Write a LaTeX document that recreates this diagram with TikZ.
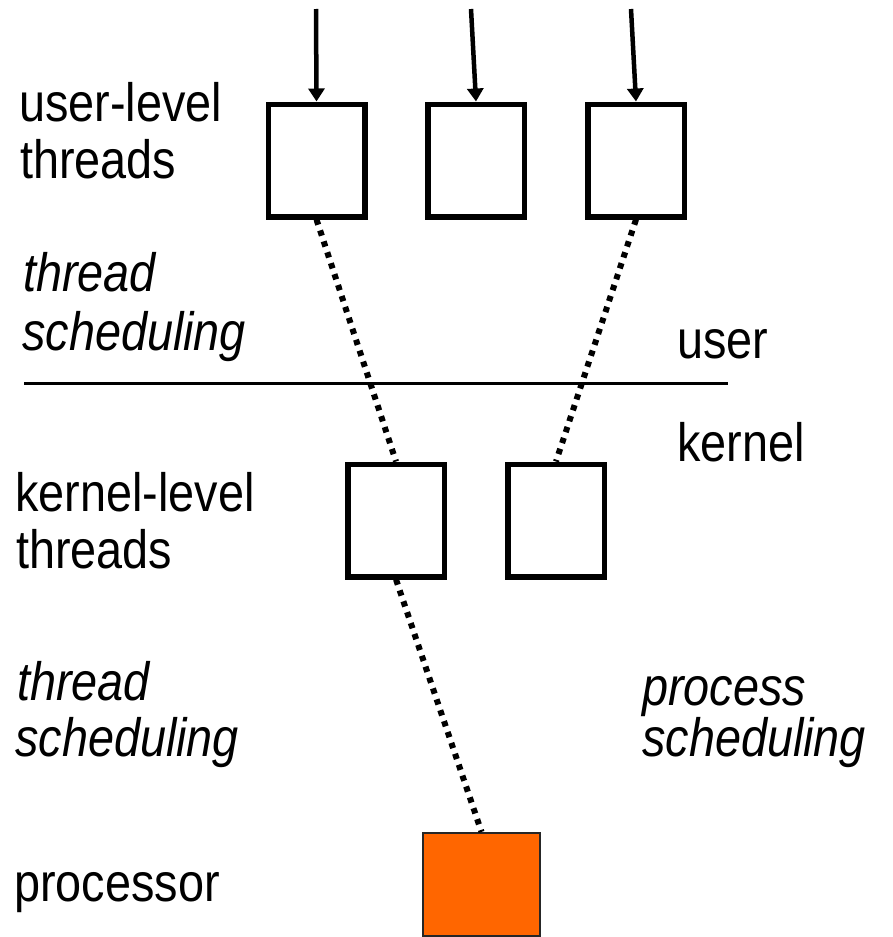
\documentclass[tikz,border=0pt]{standalone}
\usepackage{fontspec}
\setmainfont{Liberation Sans}[FakeStretch=0.867]
\usetikzlibrary{arrows.meta}
\definecolor{cpuorange}{HTML}{FF6600}
\begin{document}
\begin{tikzpicture}[x=1pt, y=-1pt,
  tbox/.style={draw, line width=5.5pt, minimum width=96.5pt, minimum height=112.5pt, inner sep=0pt, fill=white},
  cpubox/.style={draw=black!85, fill=cpuorange, line width=2.2pt, minimum width=117pt, minimum height=103pt, inner sep=0pt},
  txt/.style={anchor=base west, inner sep=0pt, font=\fontsize{54pt}{60pt}\selectfont},
  itxt/.style={txt, font=\fontsize{54pt}{60pt}\selectfont\itshape},
  inarrow/.style={line width=4.5pt, -{Triangle[length=13pt,width=16pt]}},
  maplink/.style={line width=6pt, dash pattern=on 5.5pt off 6pt},
  divider/.style={line width=2.5pt}]
  \useasboundingbox (0,0) rectangle (892,937);

  % user-level threads
  \node[tbox] (u1) at (316.5,160.5) {};
  \node[tbox] (u2) at (476,160.5) {};
  \node[tbox] (u3) at (636,160.5) {};

  % kernel-level threads
  \node[tbox] (k1) at (396,520.5) {};
  \node[tbox] (k2) at (556,520.5) {};

  % processor
  \node[cpubox] (cpu) at (481.5,884.5) {};

  % incoming arrows
  \coordinate (in1) at (316,9);
  \coordinate (in2) at (471,9);
  \coordinate (in3) at (631,9);
  \draw[inarrow] (in1) -- (u1.north);
  \draw[inarrow] (in2) -- (u2.north);
  \draw[inarrow] (in3) -- (u3.north);

  % mappings
  \draw[maplink] (u1.south) -- (k1.north);
  \draw[maplink] (u3.south) -- (k2.north);
  \draw[maplink] (k1.south) -- (cpu.north);

  % user / kernel boundary
  \coordinate (sepL) at (24,383.7);
  \coordinate (sepR) at (728,383.7);
  \draw[divider] (sepL) -- (sepR);

  % labels
  \node[txt] (ul1) at (19,121.7) {user-level};
  \node[txt] (ul2) at (20,178) {threads};
  \node[itxt] (ts1) at (23,291.7) {thread};
  \node[itxt] (ts2) at (22,350) {scheduling};
  \node[txt] (usr) at (677,358.3) {user};
  \node[txt] (krn) at (677,461.7) {kernel};
  \node[txt] (kl1) at (15,511.7) {kernel-level};
  \node[txt] (kl2) at (16,568) {threads};
  \node[itxt] (ks1) at (17,700) {thread};
  \node[itxt] (ks2) at (15,756.7) {scheduling};
  % two-line label: the base anchor sits on the last line
  \node[itxt, align=left, font=\fontsize{54pt}{48.4pt}\selectfont\itshape] (ps) at (642,756.7) {process\\scheduling};
  \node[txt] (proc) at (14,901.7) {processor};
\end{tikzpicture}
\end{document}
